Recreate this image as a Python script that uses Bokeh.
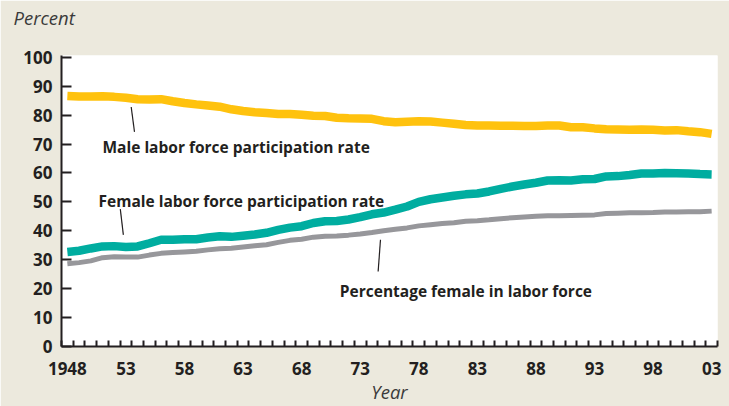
from bokeh.plotting import figure
from bokeh.models import Range1d, FixedTicker, Label, Title
from bokeh.embed import file_html
from bokeh.resources import INLINE

years = list(range(1948, 2004))

male_lfpr = [86.6, 86.4, 86.4, 86.5, 86.3, 86.0, 85.5, 85.4, 85.5, 84.8,
             84.2, 83.7, 83.3, 82.9, 82.0, 81.4, 81.0, 80.7, 80.4, 80.4,
             80.1, 79.8, 79.7, 79.1, 78.9, 78.8, 78.7, 77.9, 77.5, 77.7,
             77.9, 77.8, 77.4, 77.0, 76.6, 76.4, 76.4, 76.3, 76.3, 76.2,
             76.2, 76.4, 76.4, 75.8, 75.8, 75.4, 75.1, 75.0, 74.9, 75.0,
             74.9, 74.7, 74.8, 74.4, 74.1, 73.5]

female_lfpr = [32.7, 33.1, 33.9, 34.6, 34.7, 34.4, 34.6, 35.7, 36.9, 36.9,
               37.1, 37.1, 37.7, 38.1, 37.9, 38.3, 38.7, 39.3, 40.3, 41.1,
               41.6, 42.7, 43.3, 43.4, 43.9, 44.7, 45.7, 46.3, 47.3, 48.4,
               50.0, 50.9, 51.5, 52.1, 52.6, 52.9, 53.6, 54.5, 55.3, 56.0,
               56.6, 57.4, 57.5, 57.4, 57.8, 57.9, 58.8, 58.9, 59.3, 59.8,
               59.8, 60.0, 59.9, 59.8, 59.6, 59.5]

pct_female = [28.6, 29.0, 29.6, 30.7, 31.0, 30.9, 30.9, 31.6, 32.2, 32.5,
              32.7, 32.9, 33.4, 33.8, 34.0, 34.4, 34.8, 35.2, 36.0, 36.7,
              37.1, 37.8, 38.1, 38.2, 38.5, 38.9, 39.4, 40.0, 40.5, 41.0,
              41.7, 42.1, 42.5, 42.8, 43.3, 43.5, 43.8, 44.2, 44.5, 44.8,
              45.0, 45.2, 45.2, 45.3, 45.4, 45.5, 46.0, 46.1, 46.2, 46.2,
              46.3, 46.5, 46.5, 46.6, 46.6, 46.8]

tick_years = [1948, 1953, 1958, 1963, 1968, 1973, 1978, 1983, 1988, 1993, 1998, 2003]
tick_labels = ["1948", "53", "58", "63", "68", "73", "78", "83", "88", "93", "98", "03"]
y_ticks = list(range(0, 101, 10))

BG = "#ECE9DD"
INK = "#231F20"
YELLOW = "#FFC20E"
TEAL = "#00ADA0"
GRAY = "#97979B"

p = figure(width=729, height=406, output_backend="svg", toolbar_location=None,
           x_range=Range1d(1947.5, 2003.5), y_range=Range1d(0, 100.6),
           min_border_left=61, min_border_right=12, min_border_top=55,
           min_border_bottom=59)
p.title = None
p.background_fill_color = "white"
p.border_fill_color = BG
p.outline_line_color = None
p.xgrid.visible = False
p.ygrid.visible = False

p.line(years, pct_female, line_color=GRAY, line_width=5, line_join="round")
p.line(years, female_lfpr, line_color=TEAL, line_width=8.5, line_join="round")
p.line(years, male_lfpr, line_color=YELLOW, line_width=8.5, line_join="round")

# axes
xa = p.xaxis[0]
xa.ticker = FixedTicker(ticks=tick_years,
                        minor_ticks=[y - 0.5 for y in range(1948, 2005)])
xa.major_label_overrides = {y: l for y, l in zip(tick_years, tick_labels)}
xa.major_tick_line_color = None
xa.minor_tick_in = 6
xa.minor_tick_out = 0
xa.minor_tick_line_width = 2
xa.minor_tick_line_color = INK
xa.axis_line_width = 2
xa.axis_line_color = INK
xa.major_label_standoff = 9
xa.major_label_text_font = "Open Sans"
xa.major_label_text_font_style = "bold"
xa.major_label_text_font_size = "17px"
xa.major_label_text_color = INK
xa.axis_label = "Year"
xa.axis_label_standoff = 1
xa.axis_label_text_font = "Open Sans"
xa.axis_label_text_font_style = "italic"
xa.axis_label_text_font_size = "18.5px"
xa.axis_label_text_color = "#3A3A3A"

ya = p.yaxis[0]
ya.ticker = FixedTicker(ticks=y_ticks, minor_ticks=[])
ya.major_tick_in = 10
ya.major_tick_out = 0
ya.major_tick_line_width = 2
ya.major_tick_line_color = INK
ya.minor_tick_line_color = None
ya.axis_line_width = 2
ya.axis_line_color = INK
ya.major_label_standoff = 9
ya.major_label_text_font = "Open Sans"
ya.major_label_text_font_style = "bold"
ya.major_label_text_font_size = "17px"
ya.major_label_text_color = INK

# spacer (nearest the frame), then the "Percent" unit label above it
p.add_layout(Title(text=" ", text_font_size="1px", standoff=22.5,
                   vertical_align="bottom"), "above")
p.add_layout(Title(text="Percent", align="left", offset=-48,
                   text_font="Open Sans", text_font_style="italic",
                   text_font_size="18.5px", text_color="#3A3A3A",
                   vertical_align="bottom", standoff=0), "above")

# leader lines
lead_x0 = [1953.45, 1952.52, 1974.73]
lead_y0 = [82.8, 47.5, 36.9]
lead_x1 = [1953.73, 1952.78, 1974.53]
lead_y1 = [74.2, 38.6, 25.9]
p.segment(lead_x0, lead_y0, lead_x1, lead_y1, line_color=INK, line_width=1.2)

ann_text = ["Male labor force participation rate",
            "Female labor force participation rate",
            "Percentage female in labor force"]
ann_x = [1951.0, 1950.66, 1971.26]
ann_y = [68.9, 50.4, 19.3]
for t, x, y in zip(ann_text, ann_x, ann_y):
    p.add_layout(Label(x=x, y=y, text=t, text_font="Open Sans",
                       text_font_style="bold", text_font_size="15.5px",
                       text_color=INK, text_baseline="alphabetic"))

open("out.html", "w").write(file_html(p, INLINE))
